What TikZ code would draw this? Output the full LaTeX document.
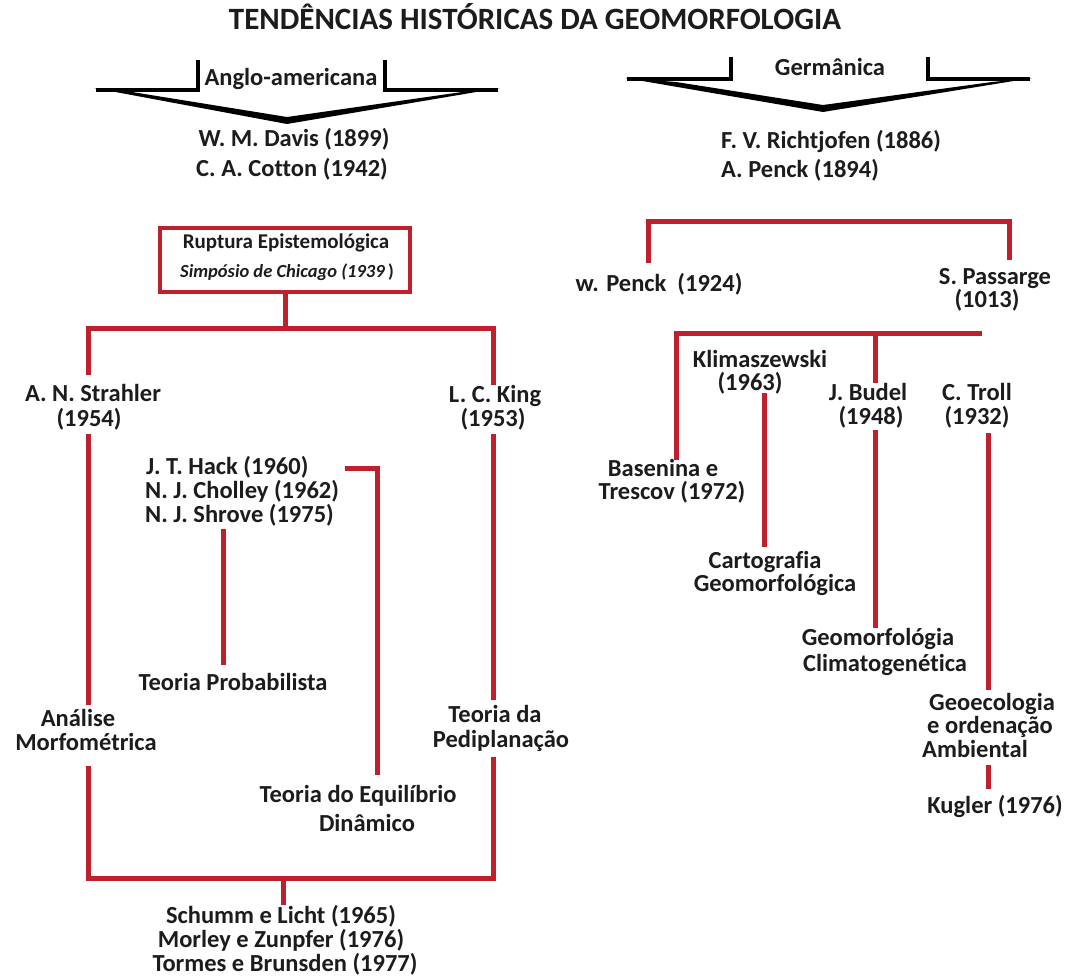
\documentclass[tikz,border=0pt]{standalone}
\usepackage{fontspec}
\setmainfont{Carlito}[Ligatures=NoCommon]
\definecolor{redline}{RGB}{190,32,46}
\definecolor{ink}{RGB}{28,28,30}
\tikzset{
  lbl/.style={font=\fontsize{24.5}{26}\selectfont\bfseries, text=ink, inner sep=0pt, text height=15pt, text depth=4.5pt},
  sml/.style={font=\fontsize{21}{23}\selectfont\bfseries, text=ink, inner sep=0pt, text height=14pt, text depth=4.5pt},
  redl/.style={draw=redline, line width=5pt},
  blk/.style={draw=black, line width=4pt},
  rbox/.style={draw=redline, line width=4pt, inner sep=0pt, minimum width=250pt, minimum height=64pt}
}
\begin{document}
\begin{tikzpicture}[x=1pt,y=-1pt]
\useasboundingbox[fill=white] (0,0) rectangle (1067,979);

% title
\node[lbl, font=\fontsize{31}{33}\selectfont\bfseries, text height=21pt, text depth=6pt] (title) at (535,22) {TENDÊNCIAS HISTÓRICAS DA GEOMORFOLOGIA};

% left arrow
\draw[blk] (96,90) -- (198,90) -- (198,60);
\draw[blk] (385,60) -- (385,90) -- (498,90);
\fill[black] (94,88) -- (287,124) -- (500,88) -- (462,92) -- (287,117) -- (132,92) -- cycle;
\node[lbl] (anglo) at (291,80) {Anglo-americana};

% right arrow
\draw[blk] (627,79) -- (731,79) -- (731,57);
\draw[blk] (928,57) -- (928,79) -- (1030,79);
\fill[black] (625,78) -- (823,112) -- (1032,78) -- (992,82) -- (823,105) -- (676,82) -- cycle;
\node[lbl] (germ) at (830,70) {Germânica};

% founders
\node[lbl] (davis) at (294,141) {W. M. Davis (1899)};
\node[lbl] (cotton) at (292,171) {C. A. Cotton (1942)};
\node[lbl, anchor=west] (richt) at (721,143) {F. V. Richtjofen (1886)};
\node[lbl, anchor=west] (apenck) at (721,172) {A. Penck (1894)};

% Ruptura box
\node[rbox] (box) at (285,260) {};
\node[sml] (rup) at (286,244) {Ruptura Epistemológica};
\node[sml, font=\fontsize{18.5}{20}\selectfont\bfseries] (simp) at (287,273) {\textit{Simpósio de Chicago (1939}\,)};

% left tree
\coordinate (hl) at (88,328);
\coordinate (hr) at (493,328);
\draw[redl] (box.south) -- (285,328);
\draw[redl] (88,375) -- (hl) -- (hr) -- (493,385);

\node[lbl] (strahler) at (93,396) {A. N. Strahler};
\node[lbl] (y1954) at (89,421) {(1954)};
\node[lbl] (king) at (495,397) {L. C. King};
\node[lbl] (y1953) at (493,421) {(1953)};

\node[lbl, anchor=west] (hack) at (146,469) {J. T. Hack (1960)};
\node[lbl, anchor=west] (cholley) at (145,493) {N. J. Cholley (1962)};
\node[lbl, anchor=west] (shrove) at (145,517) {N. J. Shrove (1975)};

\coordinate (bk1) at (345,468);
\coordinate (bk2) at (377,468);
\coordinate (bk3) at (377,775);
\draw[redl] (bk1) -- (bk2) -- (bk3);

\coordinate (sh1) at (223,529);
\coordinate (sh2) at (223,665);
\draw[redl] (sh1) -- (sh2);
\node[lbl] (prob) at (233,685) {Teoria Probabilista};

\draw[redl] (88,434) -- (88,705);
\node[lbl] (analise) at (78,721) {Análise};
\node[lbl] (morfo) at (86,745) {Morfométrica};

\draw[redl] (493,434) -- (493,700);
\node[lbl] (tda) at (495,717) {Teoria da};
\node[lbl] (pedi) at (501,742) {Pediplanação};

\node[lbl] (equil) at (358,797) {Teoria do Equilíbrio};
\node[lbl] (dinam) at (367,826) {Dinâmico};

\coordinate (bl) at (88,878);
\coordinate (br) at (493,878);
\coordinate (bc) at (283,878);
\draw[redl] (88,766) -- (bl) -- (br) -- (493,757);
\draw[redl] (bc) -- (283,905);

\node[lbl] (schumm) at (281,918) {Schumm e Licht (1965)};
\node[lbl] (morley) at (281,942) {Morley e Zunpfer (1976)};
\node[lbl] (tormes) at (285,966) {Tormes e Brunsden (1977)};

% right tree
\coordinate (rt1) at (648,221);
\coordinate (rt2) at (1009,221);
\draw[redl] (648,263) -- (rt1) -- (rt2) -- (1009,260);
\node[lbl] (wpenck) at (659,286) {w. Penck\ \ (1924)};
\node[lbl] (passarge) at (995,279) {S. Passarge};
\node[lbl] (y1013) at (987,302) {(1013)};

\coordinate (s1) at (676,333);
\coordinate (s2) at (982,333);
\coordinate (s3) at (875,333);
\draw[redl] (676,460) -- (s1) -- (s2);
\draw[redl] (s3) -- (875,383);

\node[lbl] (klim) at (760,362) {Klimaszewski};
\node[lbl] (y1963) at (750,385) {(1963)};
\node[lbl] (budel) at (868,395) {J. Budel};
\node[lbl] (y1948) at (871,419) {(1948)};
\node[lbl] (troll) at (977,395) {C. Troll};
\node[lbl] (y1932) at (977,419) {(1932)};

\draw[redl] (764,393) -- (764,547);
\draw[redl] (875,430) -- (875,628);
\draw[redl] (988,433) -- (988,690);

\node[lbl] (basen) at (663,471) {Basenina e};
\node[lbl] (tresc) at (672,494) {Trescov (1972)};
\node[lbl] (carto) at (765,563) {Cartografia};
\node[lbl] (geomf) at (775,586) {Geomorfológica};
\node[lbl] (geomc) at (878,640) {Geomorfológia};
\node[lbl] (clima) at (885,666) {Climatogenética};
\node[lbl] (geoec) at (992,705) {Geoecologia};
\node[lbl] (orden) at (990,728) {e ordenação};
\node[lbl] (ambi) at (975,752) {Ambiental};
\draw[redl] (988,765) -- (988,789);
\node[lbl] (kugler) at (995,808) {Kugler (1976)};
\end{tikzpicture}
\end{document}
